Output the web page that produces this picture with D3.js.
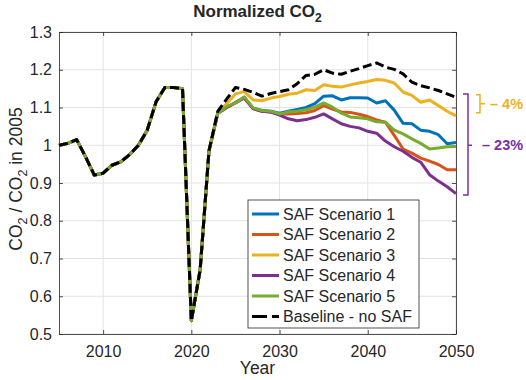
<!DOCTYPE html>
<html>
<head>
<meta charset="utf-8">
<script src="https://cdn.jsdelivr.net/npm/d3@7"></script>
<style>
body { margin: 0; background: #fff; }
svg text { font-family: "Liberation Sans", Arial, Helvetica, sans-serif; fill: #262626; }
</style>
</head>
<body>
<div class="co2-container"></div>
<script>

// years 2005 - 2050
const years = d3.range(2005, 2051);

// shared history 2005 - 2022
const history = [1.000, 1.005, 1.015, 0.970, 0.921, 0.926, 0.947, 0.956, 0.975, 1.000,
	1.040, 1.115, 1.153, 1.153, 1.150, 0.535, 0.670, 0.985];

// projections 2023 - 2050
const scenario1 = [1.085, 1.100, 1.113, 1.127, 1.098, 1.092, 1.090, 1.085, 1.090, 1.095,
	1.100, 1.110, 1.130, 1.131, 1.120, 1.126, 1.126, 1.125, 1.112, 1.118,
	1.093, 1.058, 1.057, 1.040, 1.037, 1.028, 1.004, 1.007];
const scenario2 = [1.085, 1.100, 1.113, 1.126, 1.097, 1.090, 1.088, 1.083, 1.083, 1.084,
	1.086, 1.092, 1.105, 1.096, 1.088, 1.087, 1.082, 1.076, 1.067, 1.061,
	1.026, 0.990, 0.979, 0.966, 0.958, 0.949, 0.935, 0.935];
const scenario3 = [1.088, 1.110, 1.136, 1.142, 1.120, 1.118, 1.125, 1.129, 1.135, 1.138,
	1.147, 1.145, 1.160, 1.156, 1.154, 1.160, 1.165, 1.169, 1.174, 1.172,
	1.165, 1.141, 1.132, 1.114, 1.120, 1.105, 1.090, 1.078];
const scenario4 = [1.085, 1.100, 1.112, 1.125, 1.097, 1.090, 1.088, 1.080, 1.070, 1.065,
	1.068, 1.074, 1.083, 1.070, 1.057, 1.050, 1.046, 1.037, 1.032, 1.011,
	0.996, 0.984, 0.968, 0.955, 0.922, 0.905, 0.890, 0.872];
const scenario5 = [1.085, 1.102, 1.112, 1.128, 1.099, 1.092, 1.090, 1.083, 1.088, 1.090,
	1.094, 1.101, 1.112, 1.101, 1.085, 1.075, 1.073, 1.070, 1.062, 1.061,
	1.040, 1.030, 1.017, 1.005, 0.990, 0.993, 0.996, 0.997];
const baseline = [1.090, 1.122, 1.153, 1.148, 1.140, 1.130, 1.137, 1.142, 1.147, 1.163,
	1.185, 1.188, 1.200, 1.191, 1.188, 1.196, 1.203, 1.211, 1.218, 1.207,
	1.201, 1.189, 1.167, 1.158, 1.152, 1.145, 1.136, 1.127];

const seriesNames = ['SAF Scenario 1', 'SAF Scenario 2', 'SAF Scenario 3', 'SAF Scenario 4', 'SAF Scenario 5', 'Baseline - no SAF'];
const seriesColors = ['#0072BD', '#D95319', '#EDB120', '#7E2F8E', '#77AC30', '#000000'];

const xTicks = [2010, 2020, 2030, 2040, 2050];
const yTicks = [0.5, 0.6, 0.7, 0.8, 0.9, 1.0, 1.1, 1.2, 1.3];

const series = [scenario1, scenario2, scenario3, scenario4, scenario5, baseline].map((s, i) => ({
	name: seriesNames[i],
	color: seriesColors[i],
	dashed: i === 5,
	values: history.concat(s).map((v, j) => ({ year: years[j], value: v }))
}))

const width = 526;
const height = 380;
const margin = { top: 32, right: 70, bottom: 46, left: 59 };

const x = d3.scaleLinear().domain([2005, 2050]).range([margin.left, width - margin.right]);
const y = d3.scaleLinear().domain([0.5, 1.3]).range([height - margin.bottom, margin.top]);

const svg = d3.select('.co2-container')
.append('svg')
.attr('width', width)
.attr('height', height);

// grid
const grid = svg.append('g')

grid.selectAll('.gx')
.data(xTicks)
.enter()
.append('line')
.attr('x1', d => x(d)).attr('x2', d => x(d))
.attr('y1', y(1.3)).attr('y2', y(0.5))
.attr('stroke', '#e3e3e3')
.attr('stroke-width', 1)

grid.selectAll('.gy')
.data(yTicks)
.enter()
.append('line')
.attr('x1', x(2005)).attr('x2', x(2050))
.attr('y1', d => y(d)).attr('y2', d => y(d))
.attr('stroke', '#e3e3e3')
.attr('stroke-width', 1)

// axes, matlab style ticks pointing inward
const fmt = d => String(+d.toFixed(1));

svg.append('g')
.attr('transform', `translate(0,${y(0.5)})`)
.call(d3.axisBottom(x).tickValues(xTicks).tickFormat(d3.format('d')).tickSizeInner(-4).tickSizeOuter(0).tickPadding(12))
.call(g => g.selectAll('text').attr('font-size', 16).attr('fill', '#262626'))

svg.append('g')
.attr('transform', `translate(0,${y(1.3)})`)
.call(d3.axisTop(x).tickValues(xTicks).tickFormat('').tickSizeInner(-4).tickSizeOuter(0))

svg.append('g')
.attr('transform', `translate(${x(2005)},0)`)
.call(d3.axisLeft(y).tickValues(yTicks).tickFormat(fmt).tickSizeInner(-4).tickSizeOuter(0).tickPadding(7))
.call(g => g.selectAll('text').attr('font-size', 16).attr('fill', '#262626'))

svg.append('g')
.attr('transform', `translate(${x(2050)},0)`)
.call(d3.axisRight(y).tickValues(yTicks).tickFormat('').tickSizeInner(-4).tickSizeOuter(0))

svg.selectAll('.domain').attr('stroke', '#262626').attr('stroke-width', 0.8)
svg.selectAll('.tick line').attr('stroke', '#262626').attr('stroke-width', 0.8)

// lines
const line = d3.line()
.x(d => x(d.year))
.y(d => y(d.value));

svg.append('g')
.selectAll('path')
.data(series)
.enter()
.append('path')
.attr('d', d => line(d.values))
.attr('fill', 'none')
.attr('stroke', d => d.color)
.attr('stroke-width', 3)
.attr('stroke-dasharray', d => d.dashed ? '9,4' : null)
.attr('stroke-linejoin', 'round')

// brackets
const purple = '#7B2FA0';
const yellow = seriesColors[2];

svg.append('path')
.attr('d', `M463,${y(1.136)}H468V${y(0.868)}H463M468,${y(1.0)}H472`)
.attr('fill', 'none')
.attr('stroke', purple)
.attr('stroke-width', 1.5)

svg.append('path')
.attr('d', `M476,${y(1.134)}H480V${y(1.086)}H476M480,${y(1.11)}H485`)
.attr('fill', 'none')
.attr('stroke', yellow)
.attr('stroke-width', 1.5)

svg.append('text')
.attr('x', 482).attr('y', y(1.0))
.attr('dy', '0.35em')
.attr('font-size', 14.5)
.attr('font-weight', 'bold')
.style('fill', purple)
.text('\u2013 23%')

svg.append('text')
.attr('x', 490).attr('y', y(1.11))
.attr('dy', '0.35em')
.attr('font-size', 14.5)
.attr('font-weight', 'bold')
.style('fill', yellow)
.text('\u2013 4%')

// legend
const legend = svg.append('g').attr('transform', 'translate(248,200)');

legend.append('rect')
.attr('width', 171)
.attr('height', 128)
.attr('fill', '#fff')
.attr('stroke', '#262626')
.attr('stroke-width', 0.8)

const item = legend.selectAll('.item')
.data(series)
.enter()
.append('g')
.attr('transform', (d, i) => `translate(0,${14 + i * 20.5})`)

item.append('line')
.attr('x1', 4).attr('x2', 31)
.attr('stroke', d => d.color)
.attr('stroke-width', 3)
.attr('stroke-dasharray', d => d.dashed ? '15,5' : null)

item.append('text')
.attr('x', 35)
.attr('dy', '0.35em')
.attr('font-size', 16)
.text(d => d.name)

// title and labels
const title = svg.append('text')
.attr('x', (x(2005) + x(2050)) / 2)
.attr('y', 17)
.attr('text-anchor', 'middle')
.attr('font-size', 17)
.attr('font-weight', 'bold')

title.append('tspan').text('Normalized CO')
title.append('tspan').attr('font-size', 12).attr('dy', 5).text('2')

svg.append('text')
.attr('x', (x(2005) + x(2050)) / 2)
.attr('y', 374)
.attr('text-anchor', 'middle')
.attr('font-size', 17.5)
.text('Year')

const ylab = svg.append('text')
.attr('transform', `translate(22,${(y(0.5) + y(1.3)) / 2 - 4}) rotate(-90)`)
.attr('text-anchor', 'middle')
.attr('font-size', 17.5)

ylab.append('tspan').text('CO')
ylab.append('tspan').attr('font-size', 12.5).attr('dy', 5).text('2')
ylab.append('tspan').attr('dy', -5).text(' / CO')
ylab.append('tspan').attr('font-size', 12.5).attr('dy', 5).text('2')
ylab.append('tspan').attr('dy', -5).text(' in 2005')

</script>
</body>
</html>
